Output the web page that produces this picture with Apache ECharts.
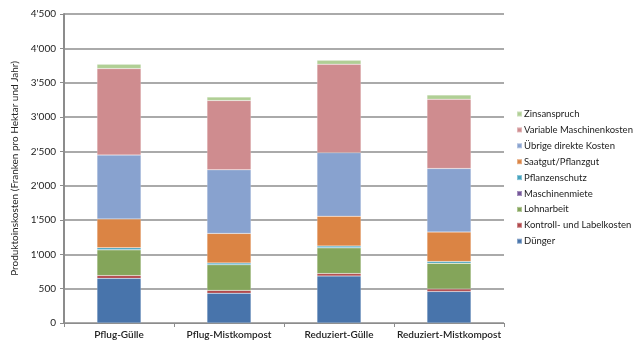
<!DOCTYPE html>
<html>
<head>
<meta charset="utf-8">
<script src="https://cdn.jsdelivr.net/npm/echarts@6/dist/echarts.min.js"></script>
<style>
  html, body { margin: 0; padding: 0; background: #fff; }
  #chart { width: 637px; height: 343px; }
</style>
</head>
<body>
<div id="chart"></div>
<script>
const categories = ["Pflug-Gülle", "Pflug-Mistkompost", "Reduziert-Gülle", "Reduziert-Mistkompost"];

// stack order from bottom to top
const duenger = [650, 435, 685, 460];
const kontrolle = [40, 40, 35, 35];
const lohnarbeit = [375, 375, 375, 375];
const maschinenmiete = [0, 0, 0, 0];
const pflanzenschutz = [30, 25, 25, 25];
const saatgut = [420, 430, 435, 430];
const uebrige = [930, 925, 925, 925];
const variableMaschinen = [1260, 1010, 1290, 1010];
const zinsanspruch = [65, 50, 55, 60];

const yTicks = { min: 0, max: 4500, interval: 500 };

const seriesDefs = [
  { name: "Dünger", data: duenger, color: "#4874ab" },
  { name: "Kontroll- und Labelkosten", data: kontrolle, color: "#b0474a" },
  { name: "Lohnarbeit", data: lohnarbeit, color: "#84a55a" },
  { name: "Maschinenmiete", data: maschinenmiete, color: "#75579a" },
  { name: "Pflanzenschutz", data: pflanzenschutz, color: "#45a3bf" },
  { name: "Saatgut/Pflanzgut", data: saatgut, color: "#db8444" },
  { name: "Übrige direkte Kosten", data: uebrige, color: "#88a2cf" },
  { name: "Variable Maschinenkosten", data: variableMaschinen, color: "#cf8c8f" },
  { name: "Zinsanspruch", data: zinsanspruch, color: "#b0cf95" },
];

const font = "Lato, 'Open Sans', sans-serif";

const chart = echarts.init(document.getElementById("chart"));
chart.setOption({
  backgroundColor: "#fff",
  animation: false,
  textStyle: { fontFamily: font },
  grid: { left: 64, right: 133, top: 14, bottom: 20 },
  legend: {
    orient: "vertical",
    left: 511,
    top: 104,
    itemWidth: 5,
    itemHeight: 5,
    itemGap: 5.9,
    icon: "rect",
    textStyle: { fontSize: 9.5, color: "#222", fontFamily: font, padding: [0, 0, 0, -3] },
    data: seriesDefs.map((s) => s.name).reverse(),
  },
  xAxis: {
    type: "category",
    data: categories,
    axisLine: { lineStyle: { color: "#8c8c8c", width: 1 } },
    axisTick: { show: true, length: 4, lineStyle: { color: "#8c8c8c" } },
    axisLabel: { color: "#222", fontSize: 10, fontWeight: 600, margin: 7, interval: 0 },
  },
  yAxis: {
    type: "value",
    min: yTicks.min,
    max: yTicks.max,
    interval: yTicks.interval,
    name: "Produktoinskosten (Franken pro Hektar und Jahr)",
    nameLocation: "middle",
    nameGap: 44,
    nameTextStyle: { fontSize: 10, color: "#222" },
    axisLine: { show: true, lineStyle: { color: "#8c8c8c", width: 2 } },
    axisTick: { show: true, length: 4, inside: false, lineStyle: { color: "#8c8c8c" } },
    axisLabel: {
      color: "#222",
      fontSize: 10,
      margin: 8,
      formatter: (v) => String(v).replace(/\B(?=(\d{3})+(?!\d))/g, "'"),
    },
    splitLine: { lineStyle: { color: "#8e8e8e", width: 1.5 } },
  },
  series: seriesDefs.map((s) => ({
    name: s.name,
    type: "bar",
    stack: "total",
    barWidth: 44,
    data: s.data,
    itemStyle: { color: s.color, borderColor: "rgba(255,255,255,0.35)", borderWidth: 0.5 },
  })),
});
</script>
</body>
</html>
